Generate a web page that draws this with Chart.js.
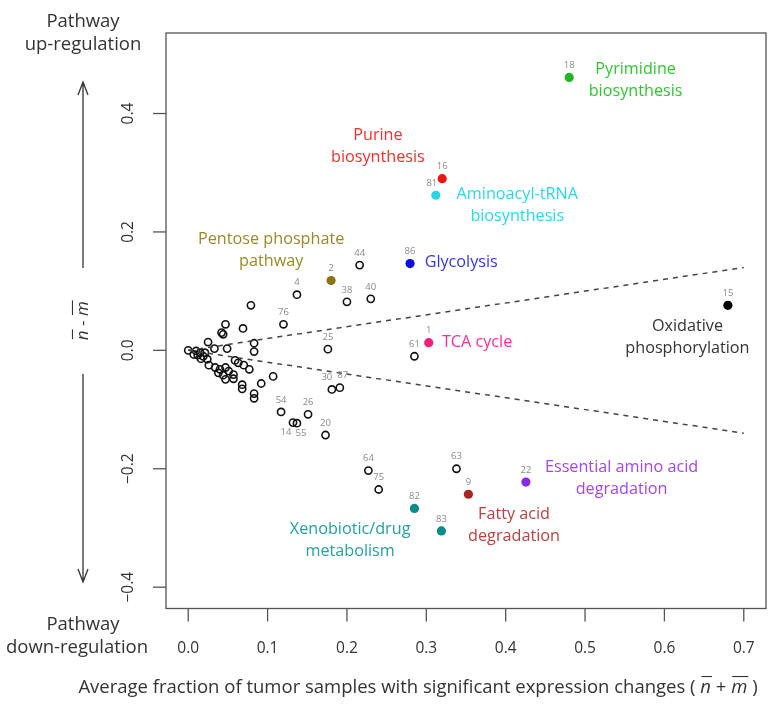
<!DOCTYPE html>
<html>
<head>
<meta charset="utf-8">
<script src="https://cdn.jsdelivr.net/npm/chart.js@4.4.1/dist/chart.umd.min.js"></script>
<style>
  html, body { margin: 0; padding: 0; background: #fff; }
  #wrap { width: 776px; height: 710px; }
</style>
</head>
<body>
<div id="wrap"><canvas id="pathwayChart"></canvas></div>
<script>
// ─── Data ─────────────────────────────────────────────────────────────────────

// unnumbered pathways (open circles)
const openX = [0.079, 0.047, 0.069, 0.042, 0.044, 0.083, 0.083, 0.025, 0.033, 0.049,
  0.000, 0.010, 0.015, 0.012, 0.019, 0.021, 0.016, 0.024, 0.007, 0.026,
  0.034, 0.040, 0.059, 0.063, 0.070, 0.077, 0.047, 0.051, 0.038, 0.044,
  0.057, 0.057, 0.047, 0.068, 0.068, 0.083, 0.083, 0.092, 0.107];
const openY = [0.076, 0.044, 0.037, 0.030, 0.027, 0.012, -0.002, 0.014, 0.003, 0.003,
  0.000, -0.001, -0.004, -0.008, -0.010, -0.004, -0.014, -0.015, -0.007, -0.025,
  -0.029, -0.032, -0.017, -0.021, -0.025, -0.032, -0.029, -0.035, -0.038, -0.042,
  -0.041, -0.048, -0.049, -0.058, -0.065, -0.073, -0.081, -0.056, -0.044];

// numbered pathways (open circles)
const numIds = ['44', '4', '38', '40', '76', '25', '61', '30', '87', '54', '14', '55', '26', '20', '64', '75', '63'];
const numX = [0.216, 0.137, 0.200, 0.230, 0.120, 0.176, 0.285, 0.181, 0.191, 0.117, 0.132, 0.137, 0.151, 0.173, 0.227, 0.240, 0.338];
const numY = [0.144, 0.094, 0.082, 0.087, 0.044, 0.002, -0.010, -0.066, -0.063, -0.104, -0.122, -0.123, -0.108, -0.143, -0.203, -0.235, -0.200];

// highlighted pathways (filled circles)
const pathIds = ['18', '16', '81', '86', '2', '1', '15', '22', '9', '82', '83'];
const pathX = [0.480, 0.320, 0.312, 0.2795, 0.180, 0.303, 0.680, 0.4255, 0.353, 0.285, 0.319];
const pathY = [0.461, 0.290, 0.262, 0.1465, 0.118, 0.013, 0.076, -0.2225, -0.243, -0.267, -0.305];

// dashed guide lines
const guideX = [0, 0.7];
const guideUpY = [0, 0.14];
const guideDownY = [0, -0.14];

// axes
const xTicks = [0, 0.1, 0.2, 0.3, 0.4, 0.5, 0.6, 0.7];
const xTickLabels = ['0.0', '0.1', '0.2', '0.3', '0.4', '0.5', '0.6', '0.7'];
const yTicks = [-0.4, -0.2, 0, 0.2, 0.4];
const yTickLabels = ['\u22120.4', '\u22120.2', '0.0', '0.2', '0.4'];

// ─── Styles / annotation layout ───────────────────────────────────────────────

const pathColors = ['#1fb81f', '#ee1414', '#2ad6e6', '#0c0ce0', '#8a7512', '#f0207f', '#000000', '#8a2be2', '#aa2424', '#0a8c8c', '#0a8c8c'];

const pathNotes = [
  { lines: ['Pyrimidine', 'biosynthesis'], x: 0.5637, y: 0.4564, color: '#2ec82e' },
  { lines: ['Purine', 'biosynthesis'], x: 0.239, y: 0.3438, color: '#ff2a2a' },
  { lines: ['Aminoacyl-tRNA', 'biosynthesis'], x: 0.4146, y: 0.2453, color: '#22dcee' },
  { lines: ['Glycolysis'], x: 0.344, y: 0.148, color: '#3535f0' },
  { lines: ['Pentose phosphate', 'pathway'], x: 0.1045, y: 0.169, color: '#9a8a22' },
  { lines: ['TCA cycle'], x: 0.364, y: 0.0135, color: '#ff2a9a' },
  { lines: ['Oxidative', 'phosphorylation'], x: 0.629, y: 0.0223, color: '#333333' },
  { lines: ['Essential amino acid', 'degradation'], x: 0.546, y: -0.2157, color: '#a544f5' },
  { lines: ['Fatty acid', 'degradation'], x: 0.4105, y: -0.2962, color: '#c04040' },
  { lines: ['Xenobiotic/drug', 'metabolism'], x: 0.204, y: -0.321, color: '#22a2a2' },
];

// small nudges for crowded id labels
const idShift = { '14': [-7, 22], '55': [4, 22], '81': [-4, 0], '30': [-5, 0], '87': [3, 0] };

const FONT = "'Open Sans', 'DejaVu Sans', sans-serif";
const INK = '#333';

function pts(xs, ys) {
  return xs.map((x, i) => ({ x: x, y: ys[i] }));
}

// ─── Plugin: frame, axes, titles, labels ──────────────────────────────────────

function arrow(ctx, x, y0, y1) {
  const dir = y1 > y0 ? 1 : -1;
  ctx.beginPath();
  ctx.moveTo(x, y0);
  ctx.lineTo(x, y1);
  ctx.moveTo(x - 5, y1 - dir * 13);
  ctx.lineTo(x, y1);
  ctx.lineTo(x + 5, y1 - dir * 13);
  ctx.stroke();
}

function overText(ctx, parts, x, y, size) {
  // parts: [text, italic, overbar]
  const font = p => (p[1] ? 'italic ' : '') + size + 'px ' + FONT;
  let w = 0;
  parts.forEach(p => {
    ctx.font = font(p);
    p.w = ctx.measureText(p[0]).width;
    w += p.w;
  });
  let cx = x - w / 2;
  parts.forEach(p => {
    ctx.font = font(p);
    ctx.fillText(p[0], cx, y);
    if (p[2]) {
      ctx.beginPath();
      ctx.moveTo(cx + 1, y - size * 0.62);
      ctx.lineTo(cx + p.w + 1, y - size * 0.62);
      ctx.stroke();
    }
    cx += p.w;
  });
}

const decorPlugin = {
  id: 'decor',
  afterDatasetsDraw(chart) {
    const ctx = chart.ctx;
    const a = chart.chartArea;
    const xs = chart.scales.x, ys = chart.scales.y;
    ctx.save();

    // frame
    ctx.strokeStyle = '#555';
    ctx.lineWidth = 1.3;
    ctx.strokeRect(a.left, a.top, a.right - a.left, a.bottom - a.top);

    // x ticks
    ctx.fillStyle = INK;
    ctx.font = '15.5px ' + FONT;
    ctx.textAlign = 'center';
    ctx.textBaseline = 'middle';
    xTicks.forEach((v, i) => {
      const px = xs.getPixelForValue(v);
      ctx.beginPath();
      ctx.moveTo(px, a.bottom);
      ctx.lineTo(px, a.bottom + 13);
      ctx.stroke();
      ctx.fillText(xTickLabels[i], px, a.bottom + 40);
    });

    // y ticks (vertical labels)
    yTicks.forEach((v, i) => {
      const py = ys.getPixelForValue(v);
      ctx.beginPath();
      ctx.moveTo(a.left - 13, py);
      ctx.lineTo(a.left, py);
      ctx.stroke();
      ctx.save();
      ctx.translate(a.left - 37, py);
      ctx.rotate(-Math.PI / 2);
      ctx.fillText(yTickLabels[i], 0, 0);
      ctx.restore();
    });

    // up / down regulation side notes
    ctx.font = '18.5px ' + FONT;
    ctx.fillText('Pathway', 83, 22);
    ctx.fillText('up-regulation', 83, 45);
    ctx.fillText('Pathway', 83, 625);
    ctx.fillText('down-regulation', 77, 648);
    ctx.strokeStyle = '#333';
    ctx.lineWidth = 1.3;
    arrow(ctx, 83, 268, 82);
    arrow(ctx, 83, 374, 582);

    // y title: n - m with bars
    ctx.save();
    ctx.translate(83, (a.top + a.bottom) / 2);
    ctx.rotate(-Math.PI / 2);
    ctx.textAlign = 'left';
    ctx.lineWidth = 1.1;
    overText(ctx, [['n', true, true], [' - ', false, false], ['m', true, true]], 0, 0, 17);
    ctx.restore();

    // x title
    ctx.textAlign = 'left';
    ctx.lineWidth = 1.1;
    overText(ctx, [
      ['Average fraction of tumor samples with significant expression changes ( ', false, false],
      ['n', true, true], [' + ', false, false], ['m', true, true], [' )', false, false]
    ], 418, 688, 18.5);

    // id labels
    ctx.textAlign = 'center';
    ctx.font = '9.5px ' + FONT;
    ctx.fillStyle = '#8a8a8a';
    const idLabels = (dsIndex, ids) => {
      chart.getDatasetMeta(dsIndex).data.forEach((el, i) => {
        const s = idShift[ids[i]] || [0, 0];
        ctx.fillText(ids[i], el.x + s[0], el.y - 12 + s[1]);
      });
    };
    idLabels(3, numIds);
    idLabels(4, pathIds);

    // pathway names
    ctx.font = '16.2px ' + FONT;
    pathNotes.forEach(n => {
      const cx = xs.getPixelForValue(n.x);
      const cy = ys.getPixelForValue(n.y);
      ctx.fillStyle = n.color;
      const top = cy - (n.lines.length - 1) * 11;
      n.lines.forEach((t, j) => ctx.fillText(t, cx, top + j * 22));
    });

    ctx.restore();
  }
};

// ─── Chart ────────────────────────────────────────────────────────────────────

new Chart(document.getElementById('pathwayChart'), {
  type: 'scatter',
  data: {
    datasets: [
      {
        type: 'line', data: pts(guideX, guideUpY),
        borderColor: '#444', borderWidth: 1.5, borderDash: [5, 5], pointRadius: 0,
      },
      {
        type: 'line', data: pts(guideX, guideDownY),
        borderColor: '#444', borderWidth: 1.5, borderDash: [5, 5], pointRadius: 0,
      },
      {
        data: pts(openX, openY),
        pointRadius: 3.6, borderWidth: 1.6, borderColor: '#111', backgroundColor: 'rgba(0,0,0,0)',
      },
      {
        data: pts(numX, numY),
        pointRadius: 3.6, borderWidth: 1.6, borderColor: '#111', backgroundColor: 'rgba(0,0,0,0)',
      },
      {
        data: pts(pathX, pathY),
        pointRadius: 4.6, borderWidth: 0, backgroundColor: pathColors,
      },
    ],
  },
  options: {
    responsive: true,
    maintainAspectRatio: false,
    animation: false,
    layout: { padding: { left: 166, top: 33, right: 10, bottom: 101.5 } },
    plugins: {
      legend: { display: false },
      tooltip: { enabled: false },
    },
    scales: {
      x: { type: 'linear', min: -0.028, max: 0.728, display: false },
      y: { type: 'linear', min: -0.436, max: 0.536, display: false },
    },
  },
  plugins: [decorPlugin],
});
</script>
</body>
</html>
